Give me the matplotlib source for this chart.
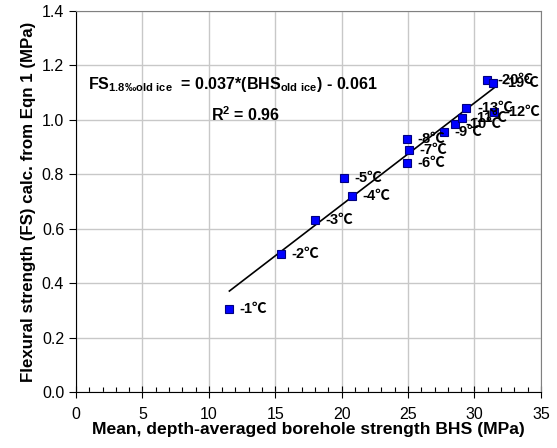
import numpy as np
import matplotlib
matplotlib.use("Agg")
import matplotlib.pyplot as plt
from matplotlib.ticker import MultipleLocator

plt.rcParams['font.family'] = ['Liberation Sans', 'Noto Sans CJK SC', 'DejaVu Sans']
plt.rcParams['mathtext.default'] = 'regular'

# mean borehole strength (MPa) vs calculated flexural strength (MPa)
temps = ['-1', '-2', '-3', '-4', '-5', '-6', '-7', '-8', '-9', '-10', '-11', '-13', '-12', '-20', '-19']
bhs = [11.55, 15.43, 18.0, 20.75, 20.2, 24.9, 25.06, 24.9, 27.73, 28.5, 29.05, 29.4, 31.5, 30.98, 31.43]
fs = [0.305, 0.507, 0.632, 0.721, 0.788, 0.842, 0.889, 0.928, 0.956, 0.983, 1.007, 1.045, 1.03, 1.146, 1.134]

fig = plt.figure(figsize=(5.57, 4.48), dpi=100)
ax = fig.add_axes([0.1364, 0.125, 0.8346, 0.8504])

# linear trend line over the data range
slope, icpt = np.polyfit(bhs, fs, 1)
xl = np.array([min(bhs), max(bhs)])
ax.plot(xl, slope * xl + icpt, color='black', lw=1.2, zorder=3)

ax.plot(bhs, fs, ls='none', marker='s', ms=5.5, mfc='#0000ff', mec='#000080', mew=0.8, zorder=4)

for t, x, y in zip(temps, bhs, fs):
    ax.annotate(t + '\u2103', (x, y), xytext=(7.5, 0), textcoords='offset points',
                va='center', ha='left', fontsize=10.5, fontweight='bold', zorder=5)

ax.text(0.9, 1.13, r'FS$_{1.8‰old\ ice}$  = 0.037*(BHS$_{old\ ice}$) - 0.061',
        fontsize=11.5, fontweight='bold', va='center')
ax.text(10.2, 1.02, r'R$^{2}$ = 0.96', fontsize=11.5, fontweight='bold', va='center')

ax.set_xlim(0, 35)
ax.set_ylim(0, 1.4)
ax.xaxis.set_major_locator(MultipleLocator(5))
ax.xaxis.set_minor_locator(MultipleLocator(1))
ax.yaxis.set_major_locator(MultipleLocator(0.2))
ax.yaxis.set_major_formatter(plt.FormatStrFormatter('%.1f'))

ax.grid(True, which='major', color='#c8c8c8', lw=1.0)
ax.set_axisbelow(True)
for s in ['top', 'right']:
    ax.spines[s].set_color('#808080')
for s in ['left', 'bottom']:
    ax.spines[s].set_color('black')

ax.tick_params(axis='x', which='major', direction='inout', length=8, width=0.8, labelsize=11.5, pad=7)
ax.tick_params(axis='x', which='minor', direction='in', length=3.5, width=0.8)
ax.tick_params(axis='y', which='major', direction='out', length=5, width=0.8, labelsize=11.5)

ax.set_xlabel('Mean, depth-averaged borehole strength BHS (MPa)', fontsize=12.6, fontweight='bold', labelpad=0)
ax.set_ylabel('Flexural strength (FS) calc. from Eqn 1 (MPa)', fontsize=12.2, fontweight='bold', labelpad=4)

fig.savefig('out.png', dpi=100)
